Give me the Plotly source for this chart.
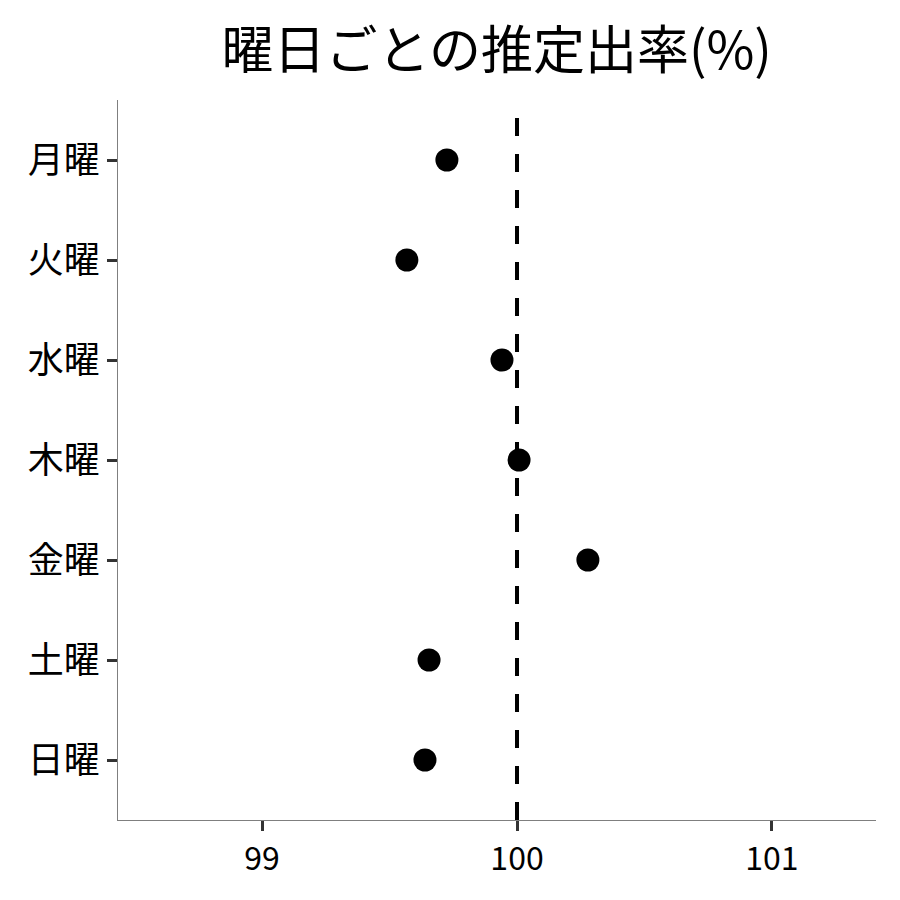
import plotly.graph_objects as go

days = ["月曜", "火曜", "水曜", "木曜", "金曜", "土曜", "日曜"]
rates = [99.725, 99.568, 99.941, 100.008, 100.278, 99.655, 99.639]
ref_value = 100
x_ticks = [99, 100, 101]
title_text = "曜日ごとの推定出率(%)"

font_family = "Noto Sans CJK JP, Noto Sans, sans-serif"

fig = go.Figure()
fig.add_trace(go.Scatter(
    x=rates, y=days, mode="markers",
    marker=dict(color="black", size=23, line=dict(width=0)),
    showlegend=False,
))
fig.add_shape(type="line", x0=ref_value, x1=ref_value, xref="x",
              y0=0, y1=1, yref="paper",
              line=dict(color="black", width=4, dash="18px,18px"))

fig.update_layout(
    width=900, height=900,
    paper_bgcolor="white", plot_bgcolor="white",
    margin=dict(l=110, r=32, t=92, b=88),
    font=dict(family=font_family, color="black"),
    title=dict(text=title_text, x=0.543, xanchor="center", y=0.952, yanchor="middle",
               font=dict(size=52, family=font_family, color="black")),
)
fig.update_xaxes(range=[98.435, 101.408], tickvals=x_ticks, showgrid=False, zeroline=False,
                 showline=True, linecolor="#7f7f7f", linewidth=1.2,
                 ticks="outside", ticklen=10, tickwidth=3, tickcolor="#333333",
                 tickfont=dict(size=32, family=font_family, color="black"))
fig.update_yaxes(categoryorder="array", categoryarray=days, range=[6.6, -0.6],
                 showgrid=False, zeroline=False,
                 showline=True, linecolor="#7f7f7f", linewidth=1.2,
                 ticks="outside", ticklen=10, tickwidth=3, tickcolor="#333333",
                 tickfont=dict(size=36, family=font_family, color="black"))

fig.write_html("out.html")
